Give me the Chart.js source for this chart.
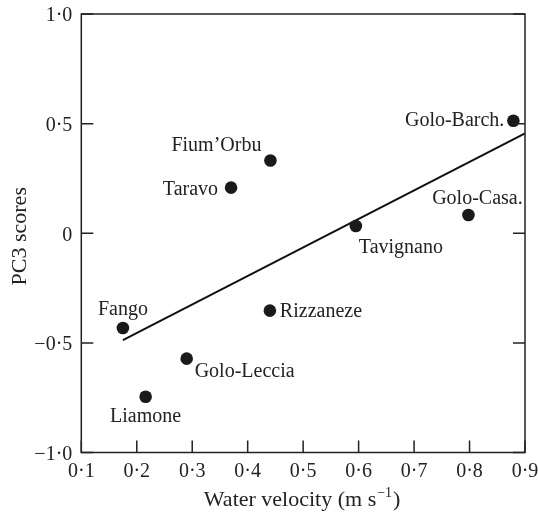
<!DOCTYPE html>
<html>
<head>
<meta charset="utf-8">
<script src="https://cdn.jsdelivr.net/npm/chart.js@4/dist/chart.umd.min.js"></script>
<style>
  html, body { margin: 0; padding: 0; background: #fff; }
  canvas { display: block; }
</style>
</head>
<body>
<canvas id="chart" width="538" height="513"></canvas>
<script>
// sites
const sites = ["Fango", "Liamone", "Golo-Leccia", "Rizzaneze", "Taravo", "Fium\u2019Orbu", "Tavignano", "Golo-Casa.", "Golo-Barch."]
const velocity = [0.175, 0.216, 0.290, 0.440, 0.370, 0.441, 0.595, 0.798, 0.879]
const pc3 = [-0.432, -0.746, -0.572, -0.353, 0.208, 0.332, 0.033, 0.083, 0.513]

// regression line end points
const fitX = [0.175, 0.9]
const fitY = [-0.487, 0.456]

const xTicks = [0.1, 0.2, 0.3, 0.4, 0.5, 0.6, 0.7, 0.8, 0.9]
const yTicks = [-1.0, -0.5, 0, 0.5, 1.0]

// where each name sits relative to its dot
const labelPlace = {
  "Fango": [0, -18, "center"],
  "Liamone": [0, 20, "center"],
  "Golo-Leccia": [8, 13, "left"],
  "Rizzaneze": [10, 1, "left"],
  "Taravo": [-13, 2, "right"],
  "Fium\u2019Orbu": [-9, -15, "right"],
  "Tavignano": [3, 22, "left"],
  "Golo-Casa.": [9, -16, "center"],
  "Golo-Barch.": [-9, 0, "right"],
}

const FONT = "'Liberation Serif', 'Times New Roman', serif"
const INK = "#222"

const fmt = v => {
  if (v === 0) return "0"
  const s = Math.abs(v).toFixed(1).replace(".", "\u00b7")
  return v < 0 ? "\u2212" + s : s
}

const frame = {
  id: "frame",
  afterDatasetsDraw(chart) {
    const { ctx, chartArea: a, scales } = chart
    ctx.save()
    ctx.strokeStyle = INK
    ctx.lineWidth = 1.5
    ctx.strokeRect(a.left, a.top, a.right - a.left, a.bottom - a.top)
    const t = 12
    ctx.beginPath()
    xTicks.forEach(v => {
      const px = scales.x.getPixelForValue(v)
      ctx.moveTo(px, a.bottom)
      ctx.lineTo(px, a.bottom - t)
    })
    yTicks.forEach(v => {
      const py = scales.y.getPixelForValue(v)
      ctx.moveTo(a.left, py)
      ctx.lineTo(a.left + t, py)
      ctx.moveTo(a.right, py)
      ctx.lineTo(a.right - t, py)
    })
    ctx.stroke()

    // site names
    ctx.fillStyle = INK
    ctx.font = "20px " + FONT
    ctx.textBaseline = "middle"
    const meta = chart.getDatasetMeta(0)
    meta.data.forEach((pt, i) => {
      const [dx, dy, al] = labelPlace[sites[i]]
      ctx.textAlign = al
      ctx.fillText(sites[i], pt.x + dx, pt.y + dy)
    })

    // y title
    ctx.save()
    ctx.translate(20, (a.top + a.bottom) / 2 + 3)
    ctx.rotate(-Math.PI / 2)
    ctx.textAlign = "center"
    ctx.font = "22px " + FONT
    ctx.fillText("PC3 scores", 0, 0)
    ctx.restore()

    // x title with superscript
    const main = "Water velocity (m s"
    const sup = "\u22121"
    const tail = ")"
    ctx.font = "22px " + FONT
    const w1 = ctx.measureText(main).width
    const w3 = ctx.measureText(tail).width
    ctx.font = "14px " + FONT
    const w2 = ctx.measureText(sup).width
    const cx = (a.left + a.right) / 2
    const x0 = cx - (w1 + w2 + w3) / 2 - 2
    const yb = 506
    ctx.textBaseline = "alphabetic"
    ctx.textAlign = "left"
    ctx.font = "22px " + FONT
    ctx.fillText(main, x0, yb)
    ctx.font = "14px " + FONT
    ctx.fillText(sup, x0 + w1 + 1, yb - 9)
    ctx.font = "22px " + FONT
    ctx.fillText(tail, x0 + w1 + w2 + 2, yb)
    ctx.restore()
  }
}

new Chart(document.getElementById("chart"), {
  type: "scatter",
  data: {
    datasets: [
      {
        data: velocity.map((v, i) => ({ x: v, y: pc3[i] })),
        pointRadius: 6.3,
        pointHoverRadius: 6.3,
        pointBackgroundColor: "#1a1a1a",
        pointBorderWidth: 0,
      },
      {
        type: "line",
        data: fitX.map((v, i) => ({ x: v, y: fitY[i] })),
        borderColor: "#111",
        borderWidth: 2,
        pointRadius: 0,
        fill: false,
      }
    ]
  },
  options: {
    responsive: false,
    animation: false,
    devicePixelRatio: 1,
    layout: { padding: { top: 14, right: 13, bottom: 0, left: 0 } },
    plugins: { legend: { display: false }, tooltip: { enabled: false } },
    scales: {
      x: {
        type: "linear",
        min: 0.1,
        max: 0.9,
        afterBuildTicks: s => { s.ticks = xTicks.map(v => ({ value: v })) },
        afterFit: s => { s.height = 60.5; s.paddingLeft = 0; s.paddingRight = 0 },
        grid: { display: false, drawTicks: false },
        border: { display: false },
        ticks: {
          padding: 7,
          color: INK,
          font: { family: FONT, size: 20 },
          callback: v => fmt(v),
          autoSkip: false,
          maxRotation: 0,
        },
        title: { display: false },
      },
      y: {
        type: "linear",
        min: -1,
        max: 1,
        afterBuildTicks: s => { s.ticks = yTicks.map(v => ({ value: v })) },
        afterFit: s => { s.width = 81.3; s.paddingTop = 0; s.paddingBottom = 0 },
        grid: { display: false, drawTicks: false },
        border: { display: false },
        ticks: {
          padding: 9,
          labelOffset: 2,
          color: INK,
          font: { family: FONT, size: 20 },
          callback: v => fmt(v),
          autoSkip: false,
        },
        title: { display: false },
      }
    }
  },
  plugins: [frame]
})
</script>
</body>
</html>
